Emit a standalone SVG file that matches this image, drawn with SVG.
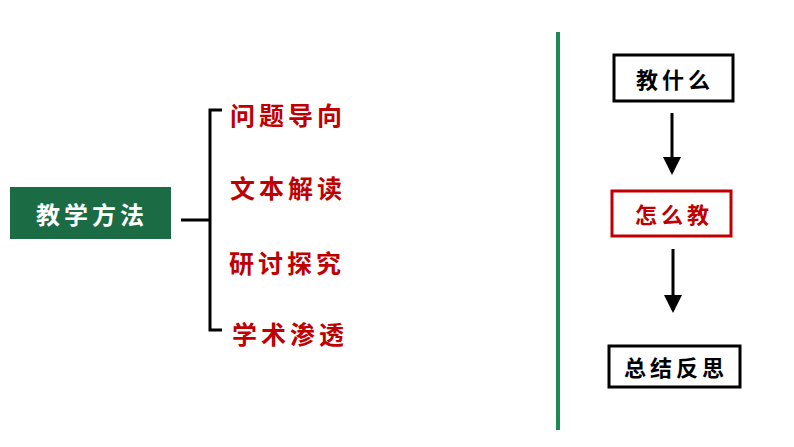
<svg xmlns="http://www.w3.org/2000/svg" width="794" height="447" viewBox="0 0 794 447">
<style>
text{font-family:"Noto Sans CJK SC",sans-serif;font-weight:bold;text-anchor:middle;dominant-baseline:central}
.r{fill:#C00000;font-size:25px;letter-spacing:4px}
.b{fill:#000;font-size:22px;letter-spacing:4px}
.box{fill:#fff;stroke:#000;stroke-width:3}
</style>
<defs><marker id="a" markerWidth="6" markerHeight="6" refX="5" refY="3" orient="auto"><path d="M0,0L6,3L0,6z" fill="#000"/></marker></defs>
<rect width="794" height="447" fill="#fff"/>
<g id="method"><rect x="10" y="187" width="161" height="52" fill="#1B6B45"/><text x="92" y="213" style="fill:#fff;font-size:24px;letter-spacing:4px">教学方法</text></g>
<g id="connectors" fill="none" stroke="#000" stroke-width="3">
<path d="M222,110H210V330H222M181,220H210"/>
<line x1="558" y1="32" x2="558" y2="430" stroke="#1B8A55" stroke-width="4"/>
<line x1="672" y1="113" x2="672" y2="172" marker-end="url(#a)"/>
<line x1="673" y1="249" x2="673" y2="310" marker-end="url(#a)"/>
</g>
<g id="m1"><text class="r" x="288" y="114">问题导向</text></g>
<g id="m2"><text class="r" x="288" y="187">文本解读</text></g>
<g id="m3"><text class="r" x="287" y="262">研讨探究</text></g>
<g id="m4"><text class="r" x="290" y="333">学术渗透</text></g>
<g id="n1"><rect class="box" x="614" y="55" width="119" height="46"/><text class="b" x="675" y="78">教什么</text></g>
<g id="n2"><rect class="box" x="612" y="191" width="119" height="45" style="stroke:#C00000"/><text class="b" x="674" y="213" style="fill:#C00000">怎么教</text></g>
<g id="n3"><rect class="box" x="609" y="346" width="131" height="41"/><text class="b" x="676" y="366">总结反思</text></g>
</svg>
